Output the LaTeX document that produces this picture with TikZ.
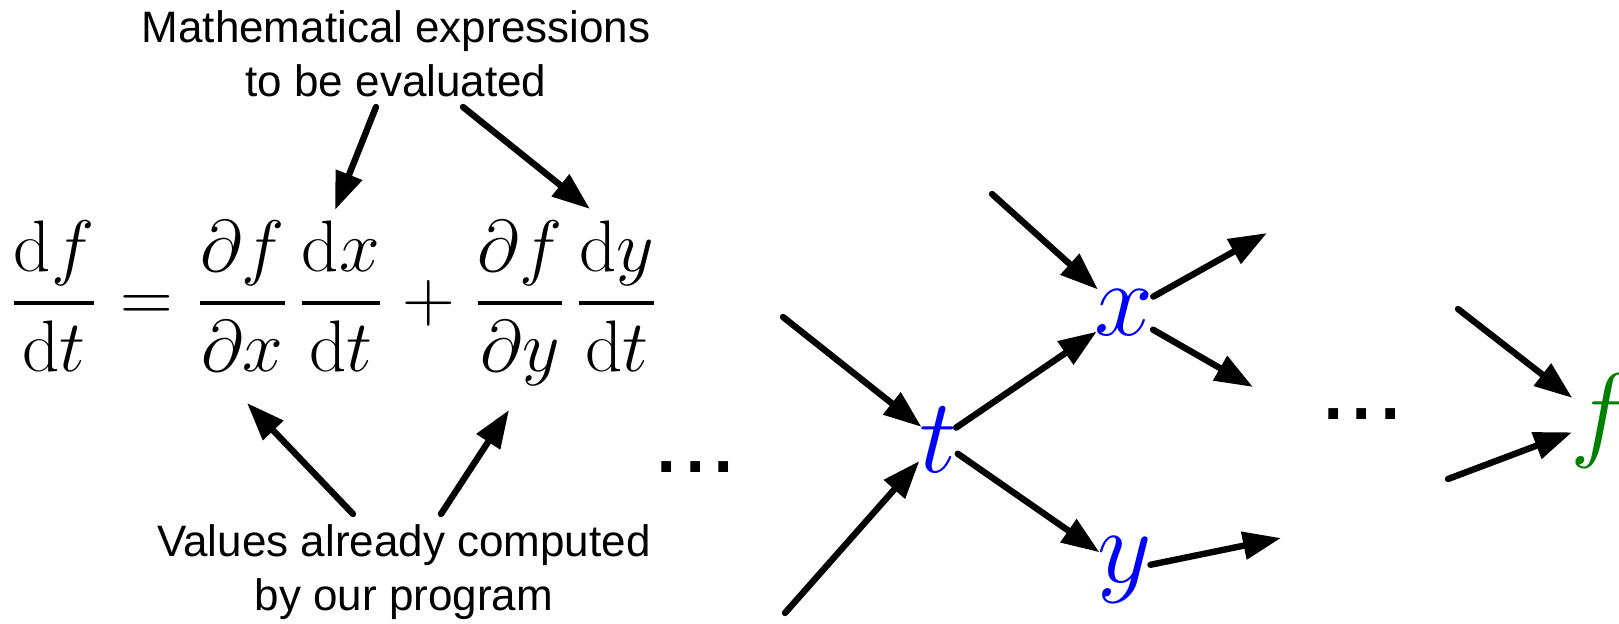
\RequirePackage{fix-cm}
\documentclass[tikz,border=0pt]{standalone}
\usepackage{exscale}
\usepackage{fontspec}
\newfontfamily\helv{Liberation Sans}
\usetikzlibrary{arrows.meta}
\definecolor{nodeblue}{RGB}{0,0,255}
\definecolor{nodegreen}{RGB}{0,128,0}
\newcommand\thickfrac[2]{{\displaystyle{#1}\above 1.8pt\displaystyle{#2}}}
\begin{document}
\begin{tikzpicture}[x=0.5pt,y=-0.5pt,
  arr/.style={line width=3.2pt, line cap=round, -{Triangle[length=19pt,width=13.5pt]}},
  lbl/.style={font=\helv\fontsize{22}{27}\selectfont, align=center, inner sep=0pt},
  var/.style={inner sep=0pt, font=\fontsize{53}{60}\selectfont},
  dotsty/.style={font=\helv\fontsize{51}{60}\selectfont, inner sep=0pt, anchor=base}]
\useasboundingbox (0,0) rectangle (1619,623);

% labels
\node[lbl] (top) at (396,54) {Mathematical expressions\\to be evaluated};
\node[lbl] (bot) at (404,572) {Values already computed\\by our program};

% equation
\node[anchor=base, inner sep=0pt, font=\fontsize{36.5}{44}\selectfont] (eq) at (334,321)
  {$\displaystyle \thickfrac{\mathrm{d}f}{\mathrm{d}t} \mkern1mu=\mkern1mu \thickfrac{\partial f}{\partial x}\,\thickfrac{\mathrm{d}x}{\mathrm{d}t} \mkern1mu+\mkern1mu \thickfrac{\partial f}{\partial y}\,\thickfrac{\mathrm{d}y}{\mathrm{d}t}$};

% annotation arrows
\coordinate (a1s) at (376,107);
\coordinate (a1e) at (335,210);
\coordinate (a2s) at (463,107);
\coordinate (a2e) at (590,209);
\coordinate (b1s) at (353,514);
\coordinate (b1e) at (247,403);
\coordinate (b2s) at (441,514);
\coordinate (b2e) at (509,410);
\draw[arr] (a1s) -- (a1e);
\draw[arr] (a2s) -- (a2e);
\draw[arr] (b1s) -- (b1e);
\draw[arr] (b2s) -- (b2e);

% dots
\node[dotsty] (dots1) at (695.5,472) {...};
\node[dotsty] (dots2) at (1362,419) {...};

% graph nodes
\node[var, text=nodeblue] (t) at (938,440) {$t$};
\node[var, text=nodeblue] (x) at (1124,313) {$x$};
\node[var, text=nodeblue] (y) at (1125,570) {$y$};
\node[var, text=nodegreen] (f) at (1602,421) {$f$};

\coordinate (tin1) at (783,317);
\coordinate (tin2) at (785,613);
\coordinate (xin) at (992,194);
\coordinate (xout1) at (1267,233);
\coordinate (xout2) at (1253,387);
\coordinate (yout) at (1281,538);
\coordinate (fin1) at (1458,309);
\coordinate (fin2) at (1448,479);

\draw[arr, shorten >=10.5pt] (tin1) -- (t.center);
\draw[arr, shorten >=14pt] (tin2) -- (t.center);
\draw[arr, shorten <=11pt, shorten >=16.5pt] (t.center) -- (x.center);
\draw[arr, shorten <=12pt, shorten >=15.5pt] (t.center) -- (y.center);
\draw[arr, shorten >=17.5pt] (xin) -- (x.center);
\draw[arr, shorten <=16.75pt] (x.center) -- (xout1);
\draw[arr, shorten <=16.75pt] (x.center) -- (xout2);
\draw[arr, shorten <=13pt] (y.center) -- (yout);
\draw[arr, shorten >=18.8pt] (fin1) -- (f.center);
\draw[arr, shorten >=16pt] (fin2) -- (f.center);
\end{tikzpicture}
\end{document}
